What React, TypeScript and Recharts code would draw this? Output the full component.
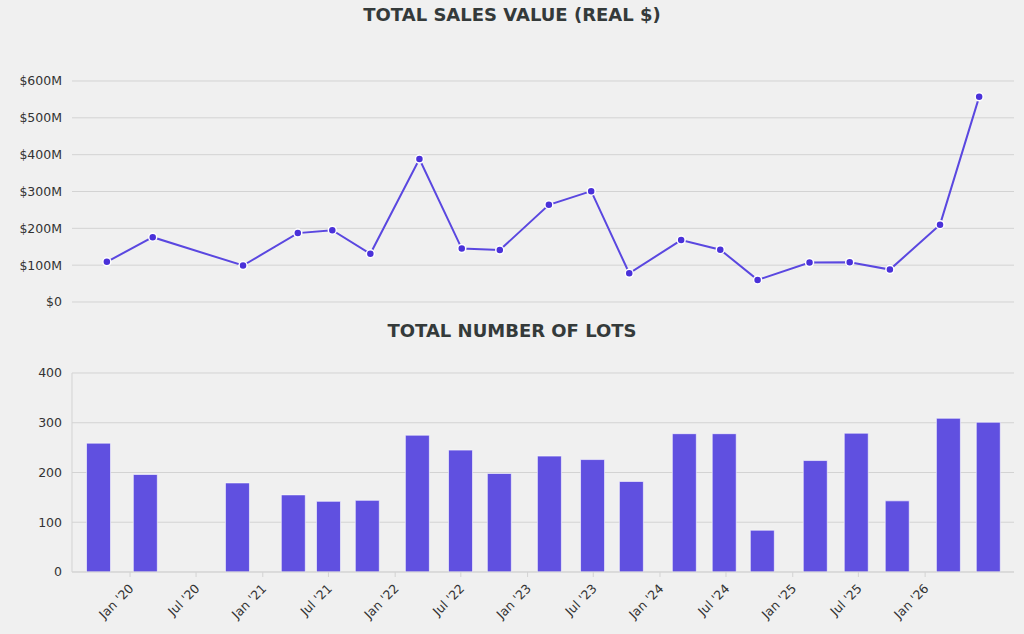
import React from 'react';
import {
  LineChart,
  Line,
  BarChart,
  Bar,
  XAxis,
  YAxis,
  CartesianGrid,
} from 'recharts';

// auction dates, one entry per sale
const SALE_DATES = [
  '2019-10-05', '2020-02-11', '2020-10-22', '2021-03-25', '2021-06-30',
  '2021-10-15', '2022-03-02', '2022-06-29', '2022-10-14', '2023-03-01',
  '2023-06-28', '2023-10-13', '2024-03-07', '2024-06-25', '2024-10-08',
  '2025-03-03', '2025-06-24', '2025-10-15', '2026-03-05', '2026-06-23',
];

// total sales value, real $ (millions)
const SALES_VALUE = [
  109, 176, 99, 187, 195, 131, 388, 145, 141, 264,
  301, 78, 168, 142, 60, 107, 108, 88, 210, 557,
];

// number of lots offered
const LOT_COUNTS = [
  259, 196, 179, 155, 142, 144, 275, 245, 198, 233,
  226, 182, 278, 278, 84, 224, 279, 143, 309, 301,
];

const VALUE_TICKS = [0, 100, 200, 300, 400, 500, 600];
const LOT_TICKS = [0, 100, 200, 300, 400];
const DATE_TICKS = [
  '2020-01-01', '2020-07-01', '2021-01-01', '2021-07-01', '2022-01-01',
  '2022-07-01', '2023-01-01', '2023-07-01', '2024-01-01', '2024-07-01',
  '2025-01-01', '2025-07-01', '2026-01-01',
];

const MONTHS = ['Jan', 'Feb', 'Mar', 'Apr', 'May', 'Jun', 'Jul', 'Aug', 'Sep', 'Oct', 'Nov', 'Dec'];

const ts = (d: string) => Date.parse(d + 'T00:00:00Z');

const data = SALE_DATES.map((d, i) => ({
  t: ts(d),
  value: SALES_VALUE[i],
  lots: LOT_COUNTS[i],
}));

const TOP_DOMAIN = [ts('2019-06-29'), ts('2026-09-29')];
const BOTTOM_DOMAIN = [ts('2019-07-25'), ts('2026-09-03')];

const FONT = '"DejaVu Sans", sans-serif';
const TEXT = '#333';
const GRID = '#d3d3d3';
const PURPLE = '#5a47e0';

const fmtDate = (t: number) => {
  const d = new Date(t);
  return `${MONTHS[d.getUTCMonth()]} '${String(d.getUTCFullYear()).slice(2)}`;
};

// rotated date labels hanging under each tick
const DateTick = ({ x, y, payload }: any) => {
  const tx = x - 2;
  const ty = y + 4;
  return (
    <text
      x={tx}
      y={ty}
      dy={9}
      transform={`rotate(-45, ${tx}, ${ty})`}
      textAnchor="end"
      fill={TEXT}
      fontSize={12.5}
      fontFamily={FONT}
    >
      {fmtDate(payload.value)}
    </text>
  );
};

const titleStyle: React.CSSProperties = {
  position: 'absolute',
  left: 0,
  width: 1024,
  textAlign: 'center',
  fontFamily: FONT,
  fontWeight: 700,
  fontSize: 18,
  color: '#343a3a',
  lineHeight: '20px',
};

export default function App() {
  return (
    <div style={{ position: 'absolute', left: 0, top: 0, width: 1024, height: 634, background: '#f0f0f0', overflow: 'hidden' }}>
      <style>{'body{margin:0;background:#f0f0f0}'}</style>

      <div style={{ ...titleStyle, top: 5 }}>TOTAL SALES VALUE (REAL $)</div>
      <div style={{ position: 'absolute', left: 0, top: 0 }}>
        <LineChart width={1024} height={310} data={data} margin={{ top: 81, right: 10, bottom: 8, left: 0 }}>
          <CartesianGrid vertical={false} stroke={GRID} />
          <XAxis dataKey="t" type="number" domain={TOP_DOMAIN} hide />
          <YAxis
            width={72}
            domain={[0, 600]}
            ticks={VALUE_TICKS}
            axisLine={false}
            tickLine={false}
            tickMargin={4}
            tick={{ fill: TEXT, fontSize: 12.5, fontFamily: FONT }}
            tickFormatter={(v: number) => (v === 0 ? '$0' : `$${v}M`)}
          />
          <Line
            dataKey="value"
            stroke={PURPLE}
            strokeWidth={2}
            dot={{ r: 4, fill: '#4a31d9', stroke: '#fff', strokeWidth: 1.5 }}
            isAnimationActive={false}
          />
        </LineChart>
      </div>

      <div style={{ ...titleStyle, top: 321 }}>TOTAL NUMBER OF LOTS</div>
      <div style={{ position: 'absolute', left: 0, top: 340 }}>
        <BarChart width={1024} height={294} data={data} margin={{ top: 33, right: 10, bottom: 0, left: 0 }}>
          <CartesianGrid vertical={false} stroke={GRID} />
          <XAxis
            dataKey="t"
            type="number"
            domain={BOTTOM_DOMAIN}
            ticks={DATE_TICKS.map(ts)}
            interval={0}
            height={62}
            tickSize={5}
            stroke={GRID}
            tick={<DateTick />}
          />
          <YAxis
            width={72}
            domain={[0, 400]}
            ticks={LOT_TICKS}
            stroke={GRID}
            tickLine={false}
            tickMargin={4}
            tick={{ fill: TEXT, fontSize: 12.5, fontFamily: FONT }}
          />
          <Bar
            dataKey="lots"
            barSize={24}
            fill="#6050e0"
            stroke="rgba(255,255,255,0.6)"
            strokeWidth={1}
            isAnimationActive={false}
          />
        </BarChart>
      </div>
    </div>
  );
}
